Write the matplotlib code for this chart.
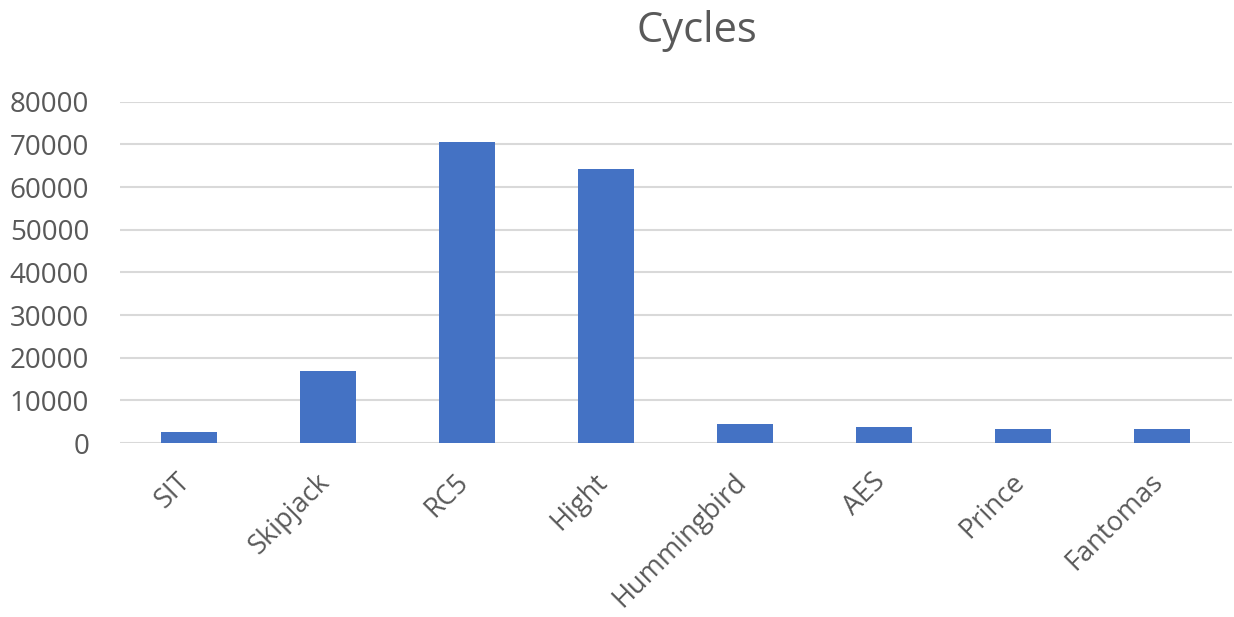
import matplotlib
matplotlib.use("Agg")
import matplotlib.pyplot as plt
from matplotlib.transforms import ScaledTranslation

categories = ["SIT", "Skipjack", "RC5", "Hight", "Hummingbird", "AES", "Prince", "Fantomas"]
cycles = [2600, 17000, 70600, 64300, 4500, 3850, 3300, 3300]
yticks = [0, 10000, 20000, 30000, 40000, 50000, 60000, 70000, 80000]

plt.rcParams['font.family'] = ['Open Sans', 'DejaVu Sans']
fig = plt.figure(figsize=(12.34, 6.17), dpi=100)
ax = fig.add_axes([0.097, 0.282, 0.901, 0.553])

x = range(len(categories))
ax.bar(x, cycles, width=0.4, color="#4472C4", zorder=3)
ax.set_xlim(-0.5, len(categories) - 0.5)
ax.set_ylim(0, 80000)
ax.set_yticks(yticks)
ax.set_yticklabels([str(v) for v in yticks], fontsize=20, color="#595959")
ax.set_xticks(list(x))
ax.set_xticklabels(categories, rotation=45, ha="right", rotation_mode="default",
                   fontsize=19.5, color="#595959")
ax.tick_params(axis="both", length=0)
ax.tick_params(axis="y", pad=22)
ax.tick_params(axis="x", pad=18)
ax.grid(axis="y", color="#d9d9d9", linewidth=1.5, zorder=0)
for s in ax.spines.values():
    s.set_visible(False)

fig.canvas.draw()
offset = ScaledTranslation(0.07, 0, fig.dpi_scale_trans)
for lbl in ax.get_xticklabels():
    lbl.set_transform(lbl.get_transform() + offset)

fig.text(0.565, 0.95, "Cycles", ha="center", va="center", fontsize=30, color="#595959")
fig.savefig("out.png", dpi=100)
